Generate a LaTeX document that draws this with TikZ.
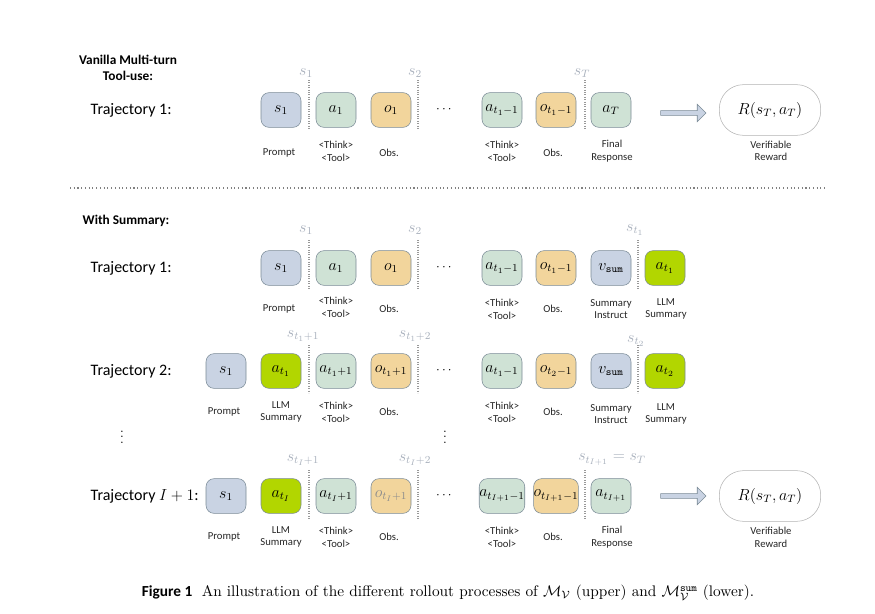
\documentclass[tikz,border=0pt]{standalone}
\usepackage{fontspec}
\setsansfont{Carlito}
\usepackage{amsmath}
\usetikzlibrary{positioning,shapes.arrows}
\definecolor{promptc}{HTML}{C9D3E3}
\definecolor{thinkc}{HTML}{CFE2D5}
\definecolor{obsc}{HTML}{F2D59C}
\definecolor{sumc}{HTML}{B2D600}
\definecolor{edgec}{HTML}{7A8A96}
\definecolor{statec}{HTML}{A8B0BC}
\tikzset{
  box/.style={draw=edgec, rounded corners=6pt, minimum width=30pt, minimum height=26pt, inner sep=0pt, font=\large},
  lab/.style={font=\sffamily\footnotesize, align=center, text=black!85},
  st/.style={text=statec, font=\large},
  cut/.style={densely dotted, gray!80, thick},
  traj/.style={font=\sffamily\large, anchor=west},
  fwd/.style={single arrow, draw=edgec, fill=promptc, minimum width=13pt, single arrow head extend=3pt, minimum height=34pt, inner sep=1pt},
  rew/.style={draw=gray!60, rounded corners=18pt, minimum width=76pt, minimum height=38pt, font=\large},
}
\begin{document}
\begin{tikzpicture}[x=0.75pt, y=-0.75pt]
  \useasboundingbox (0,0) rectangle (875,614);

  % vanilla
  \node[font=\sffamily\bfseries, align=center] at (128,68) {Vanilla Multi-turn\\Tool-use:};
  \node[traj] (v0) at (86,110) {Trajectory 1:};
  \node[box, fill=promptc] (vs) at (281,110) {$s_1$};
  \node[box, fill=thinkc] (va1) at (336,110) {$a_1$};
  \node[box, fill=obsc] (vo1) at (391,110) {$o_1$};
  \node (vd) at (445,110) {$\cdots$};
  \node[box, fill=thinkc] (va2) at (502,110) {$a_{t_1-1}$};
  \node[box, fill=obsc] (vo2) at (556,110) {$o_{t_1-1}$};
  \node[box, fill=thinkc] (vaT) at (611,110) {$a_T$};
  \node[rew] (vR) at (770,110) {$R(s_T,a_T)$};
  \node[fwd] (varr) at (682,113) {};
  \node[lab] at (279,153) {Prompt};
  \node[lab] at (336,151) {<Think>\\<Tool>};
  \node[lab] at (389,153) {Obs.};
  \node[lab] at (502,151) {<Think>\\<Tool>};
  \node[lab] at (553,153) {Obs.};
  \node[lab] at (612,151) {Final\\Response};
  \node[lab] at (771,151) {Verifiable\\Reward};
  \foreach \x/\s in {309/1, 418/2, 585/T} {
    \draw[cut] (\x,80) -- (\x,130);
    \node[st] at (\x-3,73) {$s_\s$};
  }

  \draw[dotted, thick, gray] (70,188) -- (825,188);

  % with summary
  \node[font=\sffamily\bfseries, anchor=west] at (78,221) {With Summary:};

  % trajectory 1
  \node[traj] (r1) at (86,268) {Trajectory 1:};
  \node[box, fill=promptc] (as) at (281,268) {$s_1$};
  \node[box, fill=thinkc] (aa1) at (336,268) {$a_1$};
  \node[box, fill=obsc] (ao1) at (391,268) {$o_1$};
  \node (ad) at (445,268) {$\cdots$};
  \node[box, fill=thinkc] (aa2) at (502,268) {$a_{t_1-1}$};
  \node[box, fill=obsc] (ao2) at (556,268) {$o_{t_1-1}$};
  \node[box, fill=promptc] (av) at (611,268) {$v_{\texttt{sum}}$};
  \node[box, fill=sumc] (aL) at (665,268) {$a_{t_1}$};
  \node[lab] at (279,309) {Prompt};
  \node[lab] at (336,307) {<Think>\\<Tool>};
  \node[lab] at (389,309) {Obs.};
  \node[lab] at (502,309) {<Think>\\<Tool>};
  \node[lab] at (553,309) {Obs.};
  \node[lab] at (611,309) {Summary\\Instruct};
  \node[lab] at (666,309) {LLM\\Summary};
  \foreach \x/\s in {309/1, 418/2, 638/{t_1}} {
    \draw[cut] (\x,240) -- (\x,290);
    \node[st] at (\x-3,230) {$s_{\s}$};
  }

  % trajectory 2
  \node[traj] (r2) at (86,371) {Trajectory 2:};
  \node[box, fill=promptc] (bs) at (226,371) {$s_1$};
  \node[box, fill=sumc] (bL) at (281,371) {$a_{t_1}$};
  \node[box, fill=thinkc] (ba1) at (336,371) {$a_{t_1+1}$};
  \node[box, fill=obsc] (bo1) at (391,371) {$o_{t_1+1}$};
  \node (bd) at (445,371) {$\cdots$};
  \node[box, fill=thinkc] (ba2) at (502,371) {$a_{t_1-1}$};
  \node[box, fill=obsc] (bo2) at (556,371) {$o_{t_2-1}$};
  \node[box, fill=promptc] (bv) at (611,371) {$v_{\texttt{sum}}$};
  \node[box, fill=sumc] (bL2) at (665,371) {$a_{t_2}$};
  \node[lab] at (224,412) {Prompt};
  \node[lab] at (281,412) {LLM\\Summary};
  \node[lab] at (336,412) {<Think>\\<Tool>};
  \node[lab] at (389,412) {Obs.};
  \node[lab] at (502,412) {<Think>\\<Tool>};
  \node[lab] at (553,412) {Obs.};
  \node[lab] at (611,414) {Summary\\Instruct};
  \node[lab] at (666,414) {LLM\\Summary};
  \foreach \x in {309, 418, 638} {
    \draw[cut] (\x,345) -- (\x,393);
  }
  \node[st] at (303,336) {$s_{t_1+1}$};
  \node[st] at (415,336) {$s_{t_1+2}$};
  \node[st] at (636,341) {$s_{t_2}$};

  \node at (122,433) {$\vdots$};
  \node at (445,433) {$\vdots$};

  % trajectory I+1
  \node[traj] (r3) at (86,496) {Trajectory $I+1$:};
  \node[box, fill=promptc] (cs) at (226,496) {$s_1$};
  \node[box, fill=sumc] (cL) at (281,496) {$a_{t_I}$};
  \node[box, fill=thinkc] (ca1) at (336,496) {$a_{t_I+1}$};
  \node[box, fill=obsc, text=black!45] (co1) at (391,496) {$o_{t_I+1}$};
  \node (cd) at (445,496) {$\cdots$};
  \node[box, fill=thinkc] (ca2) at (502,496) {$a_{t_{I+1}-1}$};
  \node[box, fill=obsc] (co2) at (556,496) {$o_{t_{I+1}-1}$};
  \node[box, fill=thinkc] (caT) at (611,496) {$a_{t_{I+1}}$};
  \node[fwd] (carr) at (682,496) {};
  \node[rew] (cR) at (770,496) {$R(s_T,a_T)$};
  \node[lab] at (224,537) {Prompt};
  \node[lab] at (281,537) {LLM\\Summary};
  \node[lab] at (336,537) {<Think>\\<Tool>};
  \node[lab] at (389,537) {Obs.};
  \node[lab] at (502,537) {<Think>\\<Tool>};
  \node[lab] at (553,537) {Obs.};
  \node[lab] at (612,537) {Final\\Response};
  \node[lab] at (771,537) {Verifiable\\Reward};
  \foreach \x in {309, 418, 585} {
    \draw[cut] (\x,470) -- (\x,520);
  }
  \node[st] at (303,460) {$s_{t_I+1}$};
  \node[st] at (415,460) {$s_{t_I+2}$};
  \node[st] at (612,460) {$s_{t_{I+1}}=s_T$};

  % caption
  \node[scale=1.15] at (448,593) {\textsf{\textbf{Figure 1}}\; An illustration of the different rollout processes of $\mathcal{M}_{\mathcal{V}}$ (upper) and $\mathcal{M}_{\mathcal{V}}^{\texttt{sum}}$ (lower).};
\end{tikzpicture}
\end{document}
